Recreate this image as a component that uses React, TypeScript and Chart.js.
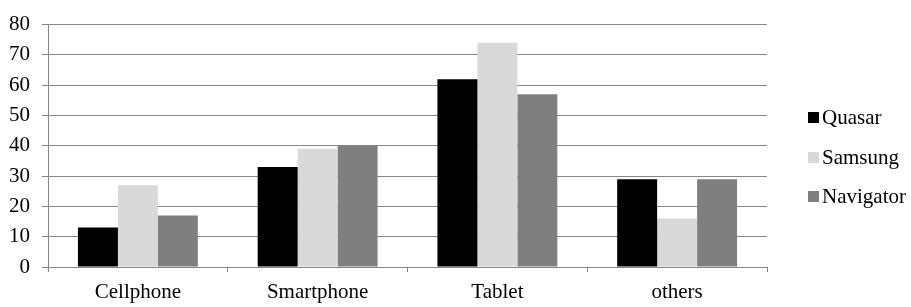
import React, { useEffect, useRef } from "react";
import { Chart, registerables } from "chart.js";

Chart.register(...registerables);

const categories = ["Cellphone", "Smartphone", "Tablet", "others"];
const seriesNames = ["Quasar", "Samsung", "Navigator"];
const quasar = [13, 33, 62, 29];
const samsung = [27, 39, 74, 16];
const navigator = [17, 40, 57, 29];
const seriesColors = ["#000000", "#d9d9d9", "#7f7f7f"];
const yMin = 0;
const yMax = 80;
const yStep = 10;

const FONT = '"Times New Roman", "Liberation Serif", Tinos, "DejaVu Serif", serif';
const AXIS = "#868686";

export default function App() {
  const ref = useRef<HTMLCanvasElement | null>(null);

  useEffect(() => {
    document.body.style.margin = "0";
    const canvas = ref.current;
    if (!canvas) return;
    const values = [quasar, samsung, navigator];
    const chart = new Chart(canvas, {
      type: "bar",
      data: {
        labels: categories,
        datasets: seriesNames.map((name, i) => ({
          label: name,
          data: values[i],
          backgroundColor: seriesColors[i],
          borderWidth: 0,
          categoryPercentage: 0.667,
          barPercentage: 1.0,
        })),
      },
      options: {
        animation: false,
        responsive: false,
        devicePixelRatio: 1,
        layout: { padding: { top: 20, right: 144, left: 0, bottom: 0 } },
        plugins: { legend: { display: false }, tooltip: { enabled: false } },
        scales: {
          x: {
            grid: {
              display: true,
              offset: true,
              drawOnChartArea: false,
              drawTicks: true,
              tickLength: 5,
              color: AXIS,
              lineWidth: 1,
            },
            border: { display: true, color: AXIS, width: 1 },
            ticks: {
              color: "#000000",
              font: { family: FONT, size: 21 },
              padding: 8,
              maxRotation: 0,
              autoSkip: false,
            },
            afterFit: (s: any) => {
              s.height = 40;
            },
          },
          y: {
            min: yMin,
            max: yMax,
            grid: {
              color: AXIS,
              lineWidth: 1,
              drawTicks: true,
              tickLength: 6,
            },
            border: { display: true, color: AXIS, width: 1 },
            ticks: {
              stepSize: yStep,
              color: "#000000",
              font: { family: FONT, size: 21 },
              padding: 12,
            },
            afterFit: (s: any) => {
              s.width = 48;
            },
          },
        },
      },
    });
    return () => chart.destroy();
  }, []);

  return (
    <div style={{ position: "absolute", left: 0, top: 0, width: 911, height: 307, background: "#fff" }}>
      <canvas ref={ref} width={911} height={307} style={{ position: "absolute", left: 0, top: 0 }} />
      <div style={{ position: "absolute", left: 808, top: 98 }}>
        {seriesNames.map((name, i) => (
          <div
            key={name}
            style={{
              display: "flex",
              alignItems: "center",
              height: 39.5,
              fontFamily: FONT,
              fontSize: 21,
              color: "#000",
              whiteSpace: "nowrap",
            }}
          >
            <span style={{ display: "inline-block", width: 11, height: 11, background: seriesColors[i], marginRight: 3 }} />
            <span>{name}</span>
          </div>
        ))}
      </div>
    </div>
  );
}
